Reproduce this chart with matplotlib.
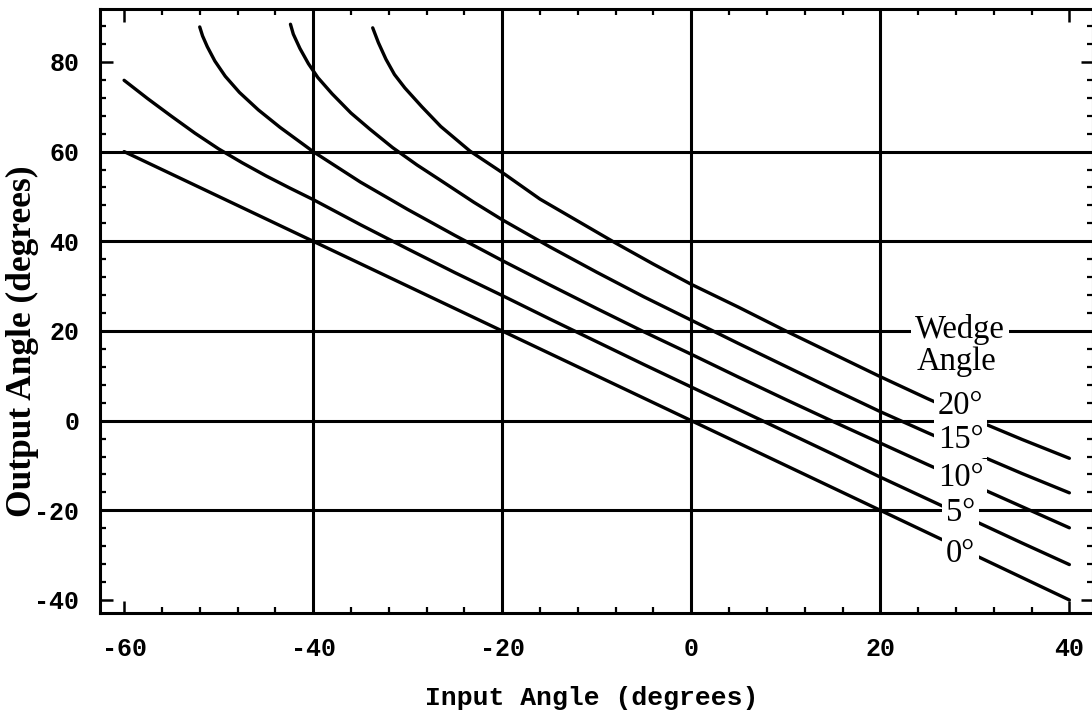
import numpy as np
import matplotlib.pyplot as plt
from matplotlib.ticker import MultipleLocator

# datos (angulo de entrada vs angulo de salida)
x_w0 = [-60, -40, -20, 0, 20, 40]
y_w0 = [60, 40, 20, 0, -20, -40]

x_w5 = [-60, -57.5, -55, -52.5, -50, -47.5, -45, -42.5, -40, -35, -30, -25, -20, -15, -10, -5, 0, 5, 10, 15, 20, 25, 30, 35, 40]
y_w5 = [75.9, 71.8, 67.9, 64.1, 60.6, 57.5, 54.6, 51.9, 49.3, 43.7, 38.3, 33.0, 27.9, 22.7, 17.6, 12.5, 7.5, 2.5, -2.5, -7.5, -12.6, -17.5, -22.4, -27.3, -32.1]

x_w10 = [-52.0, -51.7, -51.2, -50.4, -49.3, -47.8, -45.8, -43.5, -40, -35, -30, -25, -20, -15, -10, -5, 0, 5, 10, 15, 20, 25, 30, 35, 40]
y_w10 = [87.8, 85.8, 83.4, 80.2, 76.8, 73.2, 69.3, 65.4, 60.0, 53.2, 47.1, 41.3, 35.7, 30.3, 25.0, 19.8, 14.8, 9.7, 4.7, -0.2, -5.0, -9.8, -14.5, -19.2, -23.9]

x_w15 = [-42.4, -42.1, -41.4, -40.5, -39.5, -38.0, -36.0, -34.0, -31.6, -29.0, -26.6, -23.0, -20, -15, -10, -5, 0, 5, 10, 15, 20, 25, 30, 35, 40]
y_w15 = [88.4, 86.2, 83.0, 79.6, 76.5, 72.9, 68.6, 65.0, 60.9, 57.0, 53.7, 48.7, 44.8, 38.8, 33.1, 27.6, 22.4, 17.2, 12.1, 7.0, 2.0, -2.7, -7.3, -11.8, -16.1]

x_w20 = [-33.7, -33.1, -32.3, -31.4, -30.3, -28.5, -26.5, -23.4, -19.7, -16, -12, -8, -4, 0, 5, 10, 15, 20, 25, 30, 35, 40]
y_w20 = [87.6, 84.3, 80.6, 77.2, 74.2, 70.0, 65.6, 60.1, 54.9, 49.4, 44.5, 39.6, 34.9, 30.4, 25.3, 20.0, 14.9, 9.8, 4.9, 0.2, -4.2, -8.4]

wedge_labels = ['20°', '15°', '10°', '5°', '0°']
grid_x = [-40, -20, 0, 20]
grid_y = [-20, 0, 20, 40, 60]

mono = 'Liberation Mono'
serif = 'Liberation Serif'

fig = plt.figure(figsize=(10.92, 7.15), dpi=100)
ax = fig.add_axes([100/1092, 1 - 613/715, 993/1092, (613 - 9)/715])

for gx in grid_x:
    ax.axvline(gx, color='black', lw=2.2, zorder=1)
for gy in grid_y:
    ax.axhline(gy, color='black', lw=2.2, zorder=1)

for xs, ys in [(x_w0, y_w0), (x_w5, y_w5), (x_w10, y_w10), (x_w15, y_w15), (x_w20, y_w20)]:
    ax.plot(xs, ys, color='black', lw=2.4, solid_capstyle='round', solid_joinstyle='round', zorder=2)

ax.set_xlim(-62.55, 42.5)
ax.set_ylim(-42.9, 91.8)

ax.xaxis.set_minor_locator(MultipleLocator(4))
ax.yaxis.set_minor_locator(MultipleLocator(4))
ax.tick_params(which='both', direction='in', top=True, right=True, color='black')
ax.tick_params(which='major', length=9, width=1.8)
ax.tick_params(which='minor', length=4.5, width=1.6)
ax.tick_params(axis='y', which='major', pad=15)
ax.tick_params(axis='x', which='major', pad=17)
for sp in ax.spines.values():
    sp.set_linewidth(2.2)

ax.set_xticks([-60, -40, -20, 0, 20, 40])
ax.set_xticklabels(['-60', '-40', '-20', '0', '20', '40'])
ax.set_yticks([-40, -20, 0, 20, 40, 60, 80])
ax.set_yticklabels(['-40', '-20', '0', '20', '40', '60', '80'])
for lab in ax.get_xticklabels() + ax.get_yticklabels():
    lab.set_fontfamily(mono)
    lab.set_fontweight('bold')
    lab.set_fontsize(18)

fig.text(592/1092, 1 - 705/715, 'Input Angle (degrees)', family=mono, weight='bold',
         fontsize=19, ha='center', va='baseline')
fig.text(22/1092, 1 - 341/715, 'Output Angle (degrees)', family=serif, weight='bold',
         fontsize=25.5, ha='center', va='center', rotation=90)

# etiquetas con fondo blanco que tapan curvas y rejilla
box = dict(boxstyle='square,pad=0.12', facecolor='white', edgecolor='none')
ax.text(28.4, 18.5, 'Wedge', family=serif, fontsize=23.5, ha='center', va='baseline', bbox=box, zorder=5)
ax.text(28.1, 11.3, 'Angle', family=serif, fontsize=23.5, ha='center', va='baseline', zorder=5)
label_y = [1.4, -6.0, -14.6, -22.4, -31.6]
for lab, ly in zip(wedge_labels, label_y):
    ax.text(28.5, ly, lab, family=serif, fontsize=23.5, ha='center', va='baseline', bbox=box, zorder=5)

fig.savefig('out.png', dpi=100)
